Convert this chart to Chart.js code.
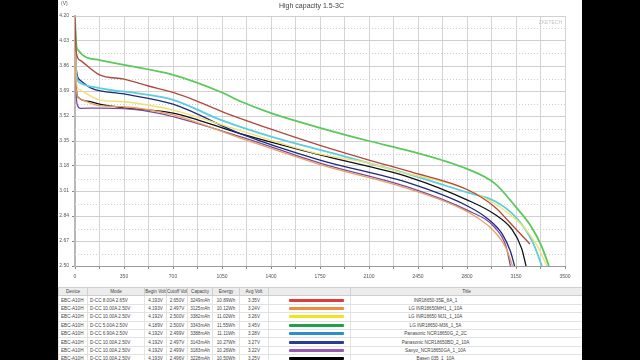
<!DOCTYPE html>
<html>
<head>
<meta charset="utf-8">
<script src="https://cdn.jsdelivr.net/npm/chart.js@4.4.1/dist/chart.umd.min.js"></script>
<style>
    html, body { margin: 0; padding: 0; background: #000; }
    #panel { position: absolute; left: 58px; top: 0; width: 524px; height: 360px; background: #fff; overflow: hidden; }
    #chart { position: absolute; left: 0; top: 0; }
    #table { position: absolute; left: 0; top: 287px; width: 524px; border-collapse: collapse; table-layout: fixed;
             font-family: "Liberation Sans", Arial, sans-serif; font-size: 4.6px; color: #444; }
    #table td, #table th { height: 7.4px; padding: 0; border: 1px solid #e2e2e2; text-align: center; white-space: nowrap; overflow: hidden; font-weight: normal; }
    #table th { background: #ececec; border-color: #cfcfcf; }
    #table td.left { text-align: left; padding-left: 2px; }
    #table td.title { padding-right: 62px; }
    .bar { display: block; margin-left: 20px; width: 55px; height: 3px; border-radius: 1px; }
</style>
</head>
<body>
<div id="panel">
    <canvas id="chart" width="524" height="287"></canvas>
    <table id="table"></table>
</div>
<script>
const capTicks = [0, 350, 700, 1050, 1400, 1750, 2100, 2450, 2800, 3150, 3500];
const voltTicks = [2.50, 2.67, 2.84, 3.01, 3.18, 3.35, 3.52, 3.69, 3.86, 4.03, 4.20];

const capRed = [0, 8, 35, 175, 350, 525, 700, 875, 1050, 1400, 1750, 2100, 2400, 2800, 3000, 3130, 3249];
const voltRed = [4.19, 3.96, 3.90, 3.80, 3.77, 3.724, 3.68, 3.62, 3.55, 3.43, 3.32, 3.22, 3.14, 3.02, 2.90, 2.77, 2.65];

const capOrange = [0, 8, 30, 175, 350, 700, 1180, 1750, 2400, 2800, 2990, 3080, 3125];
const voltOrange = [4.19, 3.70, 3.64, 3.59, 3.583, 3.527, 3.37, 3.19, 3.02, 2.87, 2.74, 2.62, 2.50];

const capYellow = [0, 8, 30, 175, 350, 700, 1180, 1750, 2100, 2321, 2750, 2986, 3107, 3200, 3300, 3370];
const voltYellow = [4.19, 3.76, 3.70, 3.63, 3.617, 3.56, 3.42, 3.26, 3.20, 3.14, 3.04, 2.93, 2.85, 2.77, 2.64, 2.50];

const capGreen = [0, 8, 20, 175, 350, 700, 1050, 1180, 1400, 1750, 2100, 2400, 2800, 3000, 3150, 3250, 3330, 3385];
const voltGreen = [4.19, 4.02, 3.97, 3.90, 3.867, 3.80, 3.68, 3.62, 3.54, 3.44, 3.35, 3.28, 3.16, 3.06, 2.90, 2.78, 2.64, 2.50];

const capCyan = [0, 8, 30, 175, 450, 700, 1050, 1400, 1750, 2100, 2400, 2800, 3000, 3150, 3270, 3335];
const voltCyan = [4.19, 3.82, 3.75, 3.71, 3.674, 3.63, 3.49, 3.38, 3.29, 3.20, 3.12, 3.00, 2.94, 2.83, 2.66, 2.50];

const capNavy = [0, 8, 35, 120, 350, 700, 1180, 1750, 2400, 2800, 2950, 3050, 3110, 3140];
const voltNavy = [4.19, 3.85, 3.765, 3.708, 3.67, 3.60, 3.40, 3.22, 3.06, 2.91, 2.82, 2.72, 2.60, 2.50];

const capPurple = [0, 8, 15, 40, 175, 350, 600, 1180, 1750, 2400, 2800, 3000, 3080, 3110];
const voltPurple = [4.19, 3.70, 3.60, 3.572, 3.574, 3.57, 3.538, 3.38, 3.20, 3.03, 2.88, 2.76, 2.63, 2.50];

const capBlack = [0, 8, 20, 100, 175, 350, 700, 1180, 1750, 2400, 2800, 3000, 3120, 3190, 3222];
const voltBlack = [4.19, 3.74, 3.65, 3.62, 3.60, 3.575, 3.54, 3.40, 3.255, 3.10, 2.95, 2.85, 2.75, 2.62, 2.50];

// table rows
const devices = ['EBC-A10H', 'EBC-A10H', 'EBC-A10H', 'EBC-A10H', 'EBC-A10H', 'EBC-A10H', 'EBC-A10H', 'EBC-A10H'];
const modes = ['D-CC 8.00A 2.65V', 'D-CC 10.00A 2.50V', 'D-CC 10.00A 2.50V', 'D-CC 5.00A 2.50V',
               'D-CC 6.90A 2.50V', 'D-CC 10.00A 2.50V', 'D-CC 10.00A 2.50V', 'D-CC 10.00A 2.50V'];
const beginVolts = ['4.193V', '4.193V', '4.192V', '4.189V', '4.192V', '4.192V', '4.192V', '4.193V'];
const cutoffVolts = ['2.650V', '2.497V', '2.500V', '2.500V', '2.499V', '2.497V', '2.499V', '2.496V'];
const capacities = ['3249mAh', '3125mAh', '3382mAh', '3343mAh', '3388mAh', '3143mAh', '3183mAh', '3228mAh'];
const energies = ['10.89Wh', '10.12Wh', '11.02Wh', '11.55Wh', '11.11Wh', '10.27Wh', '10.26Wh', '10.50Wh'];
const avgVolts = ['3.35V', '3.24V', '3.26V', '3.45V', '3.28V', '3.27V', '3.22V', '3.25V'];
const titles = ['INR18650-35E_8A_1', 'LG INR18650MH1_1_10A', 'LG INR18650 MJ1_1_10A', 'LG INR18650-M36_1_5A',
                'Panasonic NCR18650G_2_2C', 'Panasonic NCR18650BD_2_10A', 'Sanyo_NCR18650GA_1_10A', 'Basen 035_1_10A'];
const barColors = ['#e03a3a', '#f08c3c', '#f5e11e', '#20a048', '#2a8fd0', '#283c96', '#9a5ab4', '#000000'];
const lineColors = ['#b0483c', '#e8a060', '#f0e070', '#5cc85c', '#5ccde0', '#1c2a78', '#7a4aa0', '#111111'];

const seriesCaps = [capRed, capOrange, capYellow, capGreen, capCyan, capNavy, capPurple, capBlack];
const seriesVolts = [voltRed, voltOrange, voltYellow, voltGreen, voltCyan, voltNavy, voltPurple, voltBlack];

function buildTable() {
    const table = document.getElementById('table');
    const widths = [29, 57, 22, 21, 25, 27, 29, 82, 232];
    const heads = ['Device', 'Mode', 'Begin Volt', 'Cutoff Volt', 'Capacity', 'Energy', 'Avg Volt', '', 'Title'];
    let html = '<colgroup>' + widths.map(w => `<col style="width:${w}px">`).join('') + '</colgroup>';
    html += '<tr>' + heads.map(h => `<th>${h}</th>`).join('') + '</tr>';
    for (let i = 0; i < devices.length; i++) {
        html += '<tr>' +
            `<td class="left">${devices[i]}</td>` +
            `<td class="left">${modes[i]}</td>` +
            `<td>${beginVolts[i]}</td>` +
            `<td>${cutoffVolts[i]}</td>` +
            `<td>${capacities[i]}</td>` +
            `<td>${energies[i]}</td>` +
            `<td>${avgVolts[i]}</td>` +
            `<td><span class="bar" style="background:${barColors[i]}"></span></td>` +
            `<td class="title">${titles[i]}</td>` +
            '</tr>';
    }
    table.innerHTML = html;
}

// dotted half-step lines, axis caption and watermark
const extras = {
    id: 'extras',
    beforeDatasetsDraw(chart) {
        const ctx = chart.ctx;
        const area = chart.chartArea;
        const y = chart.scales.y;
        ctx.save();
        ctx.strokeStyle = '#cfcfcf';
        ctx.lineWidth = 1;
        ctx.setLineDash([1, 2]);
        for (let i = 0; i < voltTicks.length - 1; i++) {
            const py = Math.round(y.getPixelForValue((voltTicks[i] + voltTicks[i + 1]) / 2)) + 0.5;
            ctx.beginPath();
            ctx.moveTo(area.left, py);
            ctx.lineTo(area.right, py);
            ctx.stroke();
        }
        ctx.restore();
    },
    afterDraw(chart) {
        const ctx = chart.ctx;
        const area = chart.chartArea;
        ctx.save();
        ctx.font = '5px "Liberation Sans", Arial, sans-serif';
        ctx.fillStyle = '#555';
        ctx.textAlign = 'left';
        ctx.textBaseline = 'top';
        ctx.fillText('(V)', 3, 1);
        ctx.fillStyle = '#c4c4c4';
        ctx.textAlign = 'right';
        ctx.fillText('ZKETECH', area.right - 3, area.top + 4);
        ctx.restore();
    }
};

function buildChart() {
    const ctx = document.getElementById('chart').getContext('2d');
    const datasets = seriesCaps.map((caps, i) => ({
        label: titles[i],
        data: caps.map((c, j) => ({ x: c, y: seriesVolts[i][j] })),
        borderColor: lineColors[i],
        borderWidth: (i === 3 || i === 4) ? 1.8 : 1.3,
        pointRadius: 0,
        fill: false,
        cubicInterpolationMode: 'monotone'
    }));

    new Chart(ctx, {
        type: 'line',
        data: { datasets },
        options: {
            responsive: false,
            animation: false,
            layout: { padding: { left: 0, right: 17, top: 0, bottom: 0 } },
            scales: {
                x: {
                    type: 'linear',
                    min: 0,
                    max: 3500,
                    afterBuildTicks: scale => {
                        const t = [];
                        capTicks.forEach((v, i) => {
                            t.push({ value: v });
                            if (i < capTicks.length - 1) t.push({ value: (v + capTicks[i + 1]) / 2 });
                        });
                        scale.ticks = t;
                    },
                    afterFit: scale => { scale.height = 21; },
                    grid: { color: '#d4d4d4', lineWidth: 1, tickLength: 3, drawTicks: true, tickColor: '#888' },
                    border: { color: '#9a9a9a', width: 1 },
                    ticks: {
                        autoSkip: false,
                        maxRotation: 0,
                        padding: 5,
                        color: '#555',
                        font: { family: '"Liberation Sans", Arial, sans-serif', size: 5 },
                        callback: value => capTicks.includes(value) ? String(value) : ''
                    }
                },
                y: {
                    type: 'linear',
                    min: 2.50,
                    max: 4.20,
                    afterBuildTicks: scale => {
                        scale.ticks = voltTicks.map(v => ({ value: v }));
                    },
                    afterFit: scale => { scale.width = 17; },
                    grid: { color: '#d0d0d0', lineWidth: 1, tickLength: 3, tickColor: '#888' },
                    border: { color: '#b8b8b8', width: 2 },
                    ticks: {
                        autoSkip: false,
                        padding: 3,
                        color: '#555',
                        font: { family: '"Liberation Sans", Arial, sans-serif', size: 5 },
                        callback: (value, index) => voltTicks[index].toFixed(2)
                    }
                }
            },
            plugins: {
                legend: { display: false },
                tooltip: { enabled: false },
                title: {
                    display: true,
                    text: 'High capacity 1.5-3C',
                    color: '#444',
                    font: { family: '"Liberation Sans", Arial, sans-serif', size: 7, weight: 'normal' },
                    padding: { top: 2, bottom: 5.6 }
                }
            }
        },
        plugins: [extras]
    });
}

buildTable();
buildChart();
</script>
</body>
</html>
